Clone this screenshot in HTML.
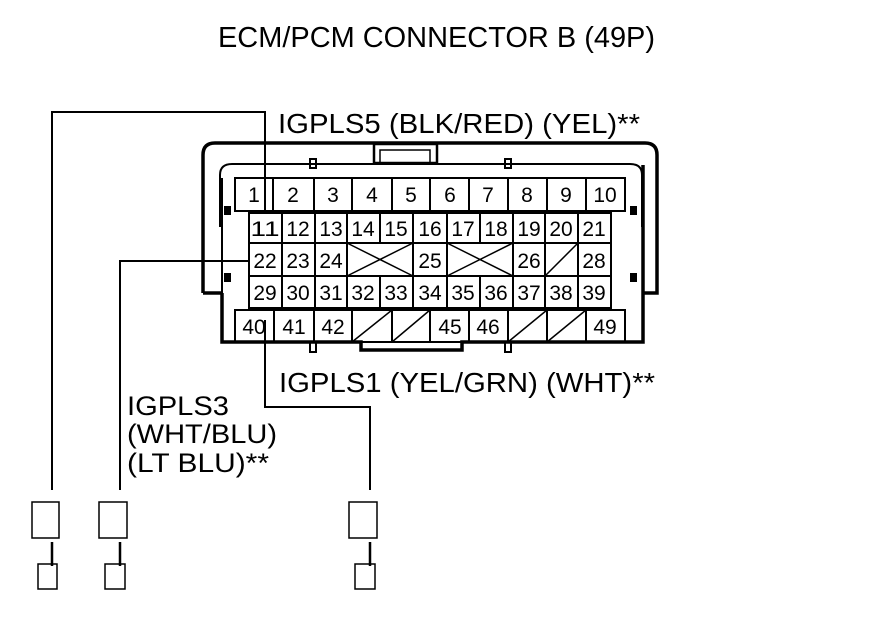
<!DOCTYPE html>
<html><head><style>html,body{margin:0;padding:0;background:#fff}svg{display:block}</style></head>
<body>
<svg width="880" height="630" viewBox="0 0 880 630" xmlns="http://www.w3.org/2000/svg" font-family="Liberation Sans, Arial, sans-serif" fill="none" stroke="#000">
<g fill="#000" stroke="none">
<text x="218" y="47" font-size="29" textLength="437" lengthAdjust="spacingAndGlyphs">ECM/PCM CONNECTOR B (49P)</text>
<text x="278" y="133" font-size="28" textLength="362" lengthAdjust="spacingAndGlyphs">IGPLS5 (BLK/RED) (YEL)**</text>
<text x="279" y="392" font-size="28" textLength="376" lengthAdjust="spacingAndGlyphs">IGPLS1 (YEL/GRN) (WHT)**</text>
<text x="127" y="415" font-size="27" textLength="102" lengthAdjust="spacingAndGlyphs">IGPLS3</text>
<text x="127" y="443" font-size="27" textLength="150" lengthAdjust="spacingAndGlyphs">(WHT/BLU)</text>
<text x="127" y="472" font-size="27" textLength="142" lengthAdjust="spacingAndGlyphs">(LT BLU)**</text>
</g>
<path d="M203 293 V155 Q203 143 215 143 H645 Q657 143 657 155 V293 H643" stroke-width="3.5"/>
<path d="M203 293 H222" stroke-width="3.5"/>
<path d="M222 293 V342 H361 V350 H462 V342 H643 V165" stroke-width="3.5"/>
<path d="M220 227 V175 Q220 164 232 164 H630 Q642 164 642 175 V227" stroke-width="2"/>
<line x1="222" y1="178" x2="222" y2="342" stroke-width="2"/>
<rect x="374" y="144" width="63" height="19" stroke-width="2.5"/>
<rect x="380" y="150" width="50" height="13" stroke-width="1.5"/>
<rect x="310" y="159" width="6" height="9" stroke-width="2"/>
<rect x="505" y="159" width="6" height="9" stroke-width="2"/>
<rect x="310" y="342" width="6" height="10" stroke-width="2"/>
<rect x="505" y="342" width="6" height="10" stroke-width="2"/>
<g fill="#000" stroke="none">
<rect x="224" y="206" width="7" height="9"/><rect x="224" y="273" width="7" height="9"/>
<rect x="630" y="206" width="7" height="9"/><rect x="630" y="273" width="7" height="9"/>
</g>
<g stroke-width="2">
<rect x="235" y="178" width="390" height="33"/>
<path d="M273 178V211M314 178V211M352 178V211M392 178V211M430 178V211M469 178V211M508 178V211M547 178V211M586 178V211"/>
<rect x="249" y="213" width="362" height="95"/>
<path d="M249 243H611M249 276H611"/>
<path d="M282 213V308M315 213V308M347 213V308M380 213V243M380 276V308M413 213V308M447 213V308M480 213V243M480 276V308M513 213V308M545 213V308M578 213V308"/>
<path d="M347 243L413 276M347 276L413 243M447 243L513 276M447 276L513 243M545 276L578 243" stroke-width="1.5"/>
<rect x="235" y="310" width="390" height="32"/>
<path d="M274 310V342M314 310V342M352 310V342M392 310V342M430 310V342M469 310V342M508 310V342M547 310V342M586 310V342"/>
<path d="M352 342L392 310M392 342L430 310M508 342L547 310M547 342L586 310" stroke-width="1.5"/>
</g>
<g fill="#000" stroke="none" font-size="21" text-anchor="middle">
<text x="254" y="202">1</text><text x="293" y="202">2</text><text x="333" y="202">3</text><text x="372" y="202">4</text><text x="411" y="202">5</text><text x="450" y="202">6</text><text x="488" y="202">7</text><text x="527" y="202">8</text><text x="566" y="202">9</text><text x="605" y="202">10</text>
<text x="265" y="236" textLength="29" lengthAdjust="spacingAndGlyphs">11</text><text x="298" y="236">12</text><text x="331" y="236">13</text><text x="363" y="236">14</text><text x="396" y="236">15</text><text x="430" y="236">16</text><text x="463" y="236">17</text><text x="496" y="236">18</text><text x="529" y="236">19</text><text x="561" y="236">20</text><text x="594" y="236">21</text>
<text x="265" y="268">22</text><text x="298" y="268">23</text><text x="331" y="268">24</text><text x="430" y="268">25</text><text x="529" y="268">26</text><text x="594" y="268">28</text>
<text x="265" y="300">29</text><text x="298" y="300">30</text><text x="331" y="300">31</text><text x="363" y="300">32</text><text x="396" y="300">33</text><text x="430" y="300">34</text><text x="463" y="300">35</text><text x="496" y="300">36</text><text x="529" y="300">37</text><text x="561" y="300">38</text><text x="594" y="300">39</text>
<text x="254" y="334">40</text><text x="294" y="334">41</text><text x="333" y="334">42</text><text x="450" y="334">45</text><text x="488" y="334">46</text><text x="605" y="334">49</text>
</g>
<g stroke-width="2">
<path d="M52 490V112H265V211"/>
<path d="M265 320V407H370V490"/>
<path d="M120 490V261H249"/>
</g>
<g stroke-width="1.5">
<rect x="32" y="502" width="27" height="36"/><rect x="99" y="502" width="28" height="36"/><rect x="349" y="502" width="28" height="36"/>
<rect x="38" y="564" width="19" height="25"/><rect x="105" y="564" width="20" height="25"/><rect x="355" y="564" width="20" height="25"/>
</g>
<g stroke-width="2.5">
<path d="M52 542V566M120 542V566M370 542V566"/>
</g>
</svg>
</body></html>
